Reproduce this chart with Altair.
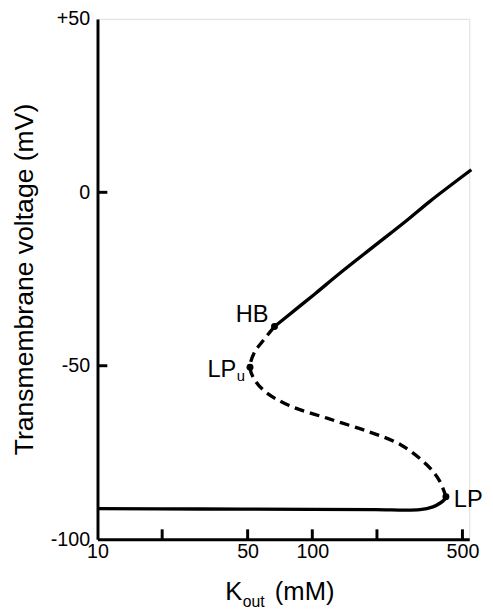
import altair as alt
import pandas as pd

# Lower stable branch (solid)
K_low = [10, 29.8, 98.5, 196, 317, 364, 396, 412, 419]
V_low = [-91.2, -91.3, -91.4, -91.5, -91.5, -90.7, -89.5, -88.6, -87.8]

# Unstable branch (dashed) from LP to HB
K_uns = [419, 390.7, 339.2, 256.6, 180.6, 118.1, 77.6, 60.7, 53.6, 51.3, 53.6, 58.6, 63.9, 66.7]
V_uns = [-87.8, -83.1, -78.4, -72.7, -68.9, -65.2, -61.4, -57.6, -53.8, -50.4, -46.3, -43.0, -40.1, -38.7]

# Upper stable branch (solid)
K_up = [66.7, 83.2, 102.8, 135.2, 193.3, 274.2, 352.8, 550]
V_up = [-38.7, -33.9, -29.3, -23.2, -15.6, -8.2, -2.6, 6.5]

# Bifurcation points
pt_names = ["HB", "LPu", "LP"]
pt_K = [66.7, 51.3, 419]
pt_V = [-38.7, -50.4, -87.8]

x_ticks_vals = [20, 50, 100, 200, 500]
y_ticks_vals = [-50, 0]
x_label_vals = [10, 50, 100, 500]
y_label_vals = [-100, -50, 0, 50]

FONT = "Liberation Sans"

def df(K, V):
    return pd.DataFrame({"K": K, "V": V, "i": list(range(len(K)))})

xs = alt.Scale(type="log", domain=[10, 538], nice=False)
ys = alt.Scale(domain=[-100, 50], nice=False, zero=False)

x_enc = alt.X("K:Q", scale=xs, axis=alt.Axis(
    values=x_label_vals, labelExpr="'' + datum.value", title=None, ticks=False, tickSize=0, grid=False,
    labelFontSize=20, labelPadding=3, labelFont=FONT, labelColor="black",
    domainWidth=3, domainColor="black", labelFlush=False))
y_enc = alt.Y("V:Q", scale=ys, axis=alt.Axis(
    values=y_label_vals, labelExpr="datum.value > 0 ? '+' + datum.value : '' + datum.value",
    title=None, ticks=False, tickSize=0, grid=False,
    labelFontSize=20, labelPadding=8, labelFont=FONT, labelColor="black",
    domainWidth=3, domainColor="black", labelFlush=False))

LW = 3.4

lower = alt.Chart(df(K_low, V_low)).mark_line(
    color="black", strokeWidth=LW, interpolate="catmull-rom"
).encode(x=x_enc, y=y_enc, order="i:Q")

unstable = alt.Chart(df(K_uns, V_uns)).mark_line(
    color="black", strokeWidth=LW, strokeDash=[10, 6], interpolate="catmull-rom"
).encode(x=x_enc, y=y_enc, order="i:Q")

upper = alt.Chart(df(K_up, V_up)).mark_line(
    color="black", strokeWidth=LW, interpolate="catmull-rom"
).encode(x=x_enc, y=y_enc, order="i:Q")

pts_df = pd.DataFrame({"K": pt_K, "V": pt_V, "name": pt_names})
points = alt.Chart(pts_df).mark_circle(color="black", size=50, opacity=1).encode(x=x_enc, y=y_enc)

hb = pd.DataFrame({"K": [pt_K[0]], "V": [pt_V[0]], "t": ["HB"]})
lpu = pd.DataFrame({"K": [pt_K[1]], "V": [pt_V[1]], "t": ["LP"], "s": ["u"]})
lp = pd.DataFrame({"K": [pt_K[2]], "V": [pt_V[2]], "t": ["LP"]})

hb_text = alt.Chart(hb).mark_text(font=FONT, fontSize=24, align="right", baseline="alphabetic",
                                  dx=-6, dy=-4.5, color="black").encode(x=x_enc, y=y_enc, text="t:N")
lpu_text = alt.Chart(lpu).mark_text(font=FONT, fontSize=24, align="right", baseline="alphabetic",
                                    dx=-14, dy=10.5, color="black").encode(x=x_enc, y=y_enc, text="t:N")
lpu_sub = alt.Chart(lpu).mark_text(font=FONT, fontSize=15, align="left", baseline="alphabetic",
                                   dx=-13.5, dy=14, color="black").encode(x=x_enc, y=y_enc, text="s:N")
lp_text = alt.Chart(lp).mark_text(font=FONT, fontSize=24, align="left", baseline="alphabetic",
                                  dx=8, dy=10, color="black").encode(x=x_enc, y=y_enc, text="t:N")

# inward ticks
xt = alt.Chart(pd.DataFrame({"K": x_ticks_vals})).mark_rule(color="black", strokeWidth=3).encode(
    x=x_enc, y=alt.value(529), y2=alt.value(519))
yt = alt.Chart(pd.DataFrame({"V": y_ticks_vals})).mark_rule(color="black", strokeWidth=3).encode(
    y=y_enc, x=alt.value(0), x2=alt.value(10))

# axis titles
ytitle = alt.Chart(pd.DataFrame({"t": ["Transmembrane voltage (mV)"]})).mark_text(
    font=FONT, fontSize=27, angle=270, align="center", baseline="alphabetic", color="black"
).encode(text="t:N", x=alt.value(-65.4), y=alt.value(265))
xt1 = alt.Chart(pd.DataFrame({"t": ["K"]})).mark_text(
    font=FONT, fontSize=26, align="left", baseline="alphabetic", color="black"
).encode(text="t:N", x=alt.value(130), y=alt.value(591))
xt2 = alt.Chart(pd.DataFrame({"t": ["out"]})).mark_text(
    font=FONT, fontSize=16, align="left", baseline="alphabetic", color="black"
).encode(text="t:N", x=alt.value(147.7), y=alt.value(597.5))
xt3 = alt.Chart(pd.DataFrame({"t": ["(mM)"]})).mark_text(
    font=FONT, fontSize=26, align="left", baseline="alphabetic", color="black"
).encode(text="t:N", x=alt.value(180.3), y=alt.value(591))

chart = alt.layer(
    lower, unstable, upper, xt, yt, points, hb_text, lpu_text, lpu_sub, lp_text,
    ytitle, xt1, xt2, xt3
).properties(
    width=378, height=529,
    autosize=alt.AutoSizeParams(type="none"),
    padding={"left": 91, "top": 6, "right": 16, "bottom": 70},
).configure_view(stroke=None).configure(background="white")

chart.save("out.html", embed_options={"renderer": "svg", "actions": False})
